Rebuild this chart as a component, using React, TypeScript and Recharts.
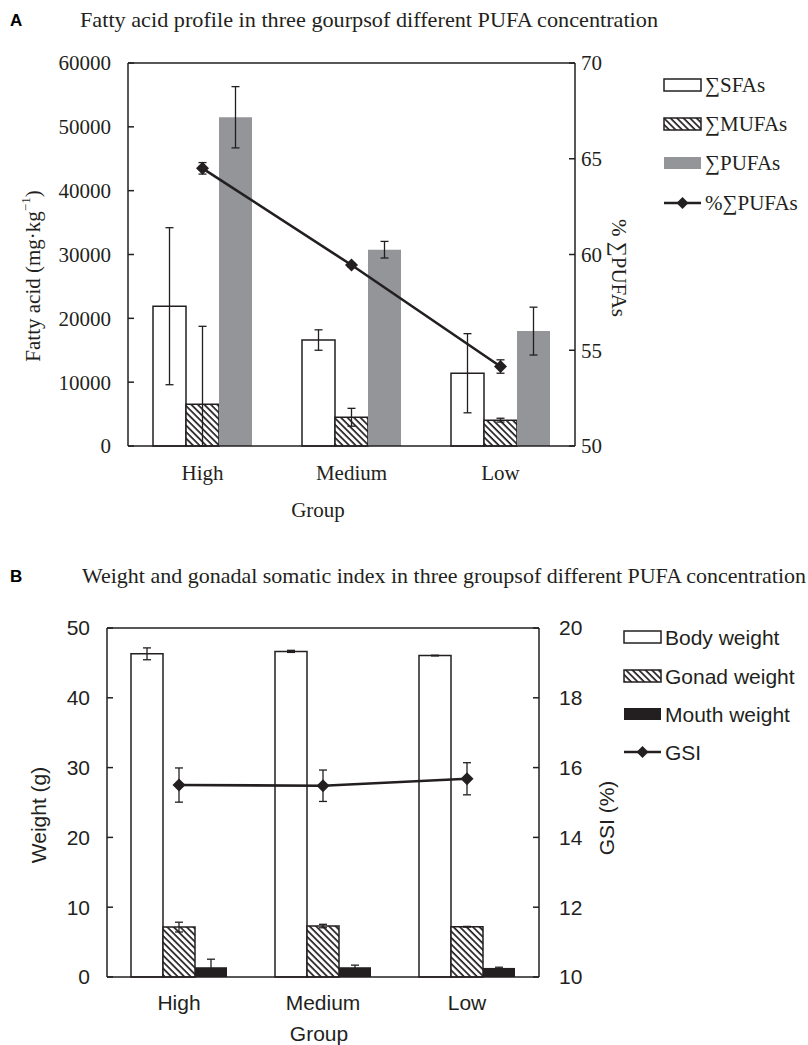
import React from 'react';
import { ComposedChart, Bar, Line, XAxis, YAxis, ErrorBar, ReferenceLine, Legend } from 'recharts';

// ---------- Panel A data ----------
const groups = ['High', 'Medium', 'Low'];
const sfa = [21900, 16600, 11400];
const sfaErr = [12300, 1600, 6200];
const mufa = [6550, 4500, 4050];
const mufaErrLow = [6550, 1400, 300];
const mufaErrHigh = [12200, 1400, 300];
const pufa = [51500, 30750, 18000];
const pufaErr = [4800, 1300, 3750];
const pctPufa = [64.5, 59.45, 54.15];
const pctPufaErr = [0.3, 0.1, 0.35];
const ticksA = [0, 10000, 20000, 30000, 40000, 50000, 60000];
const ticksARight = [50, 55, 60, 65, 70];

// ---------- Panel B data ----------
const body = [46.3, 46.65, 46.05];
const bodyErr = [0.85, 0.15, 0.05];
const gonad = [7.15, 7.3, 7.2];
const gonadErr = [0.7, 0.25, 0.05];
const mouth = [1.4, 1.4, 1.3];
const mouthErr = [1.15, 0.3, 0.1];
const gsi = [15.5, 15.48, 15.68];
const gsiErr = [0.49, 0.45, 0.46];
const ticksB = [0, 10, 20, 30, 40, 50];
const ticksBRight = [10, 12, 14, 16, 18, 20];

const dataA = groups.map((g, i) => ({
  group: g,
  sfa: sfa[i],
  sfaErr: sfaErr[i],
  mufa: mufa[i],
  mufaErr: [mufaErrLow[i], mufaErrHigh[i]],
  pufa: pufa[i],
  pufaErr: pufaErr[i],
  pct: pctPufa[i],
  pctErr: pctPufaErr[i],
}));

const dataB = groups.map((g, i) => ({
  group: g,
  body: body[i],
  bodyErr: bodyErr[i],
  gonad: gonad[i],
  gonadErr: gonadErr[i],
  mouth: mouth[i],
  mouthErr: mouthErr[i],
  gsi: gsi[i],
  gsiErr: gsiErr[i],
}));

const ink = '#231f20';
const gray = '#939598';
const serif = '"Liberation Serif", "Times New Roman", serif';
const sans = '"Liberation Sans", Arial, sans-serif';

const Hatch = ({ id }: { id: string }) => (
  <pattern id={id} patternUnits="userSpaceOnUse" width="4.6" height="4.6" patternTransform="rotate(-45)">
    <rect width="4.6" height="4.6" fill="#fff" />
    <line x1="1" y1="0" x2="1" y2="4.6" stroke={ink} strokeWidth="1.7" />
  </pattern>
);

const diamond = (cx: number, cy: number, r: number) =>
  `${cx},${cy - r} ${cx + r},${cy} ${cx},${cy + r} ${cx - r},${cy}`;

const renderDot = (p: any) => {
  const { cx, cy, index } = p;
  if (cx == null || cy == null) return <g key={index} />;
  return <polygon key={index} points={diamond(cx, cy, 6.5)} fill={ink} />;
};

const LegendA = () => {
  const rows = [25, 64, 103, 143];
  const tx = 55;
  const ts = { fontFamily: serif, fontSize: 21, fill: ink } as any;
  return (
    <svg width={158} height={170} style={{ overflow: 'visible' }}>
      <defs><Hatch id="hatchLegA" /></defs>
      <rect x={14} y={rows[0] - 6} width={37} height={12} fill="#fff" stroke={ink} strokeWidth={1.5} />
      <text x={tx} y={rows[0]} dominantBaseline="central" style={ts}>∑SFAs</text>
      <rect x={14} y={rows[1] - 6} width={37} height={12} fill="url(#hatchLegA)" stroke={ink} strokeWidth={1.5} />
      <text x={tx} y={rows[1]} dominantBaseline="central" style={ts}>∑MUFAs</text>
      <rect x={14} y={rows[2] - 6} width={37} height={12} fill={gray} />
      <text x={tx} y={rows[2]} dominantBaseline="central" style={ts}>∑PUFAs</text>
      <line x1={14} x2={51} y1={rows[3]} y2={rows[3]} stroke={ink} strokeWidth={2.5} />
      <polygon points={diamond(32.5, rows[3], 6)} fill={ink} />
      <text x={tx} y={rows[3]} dominantBaseline="central" style={ts}>%∑PUFAs</text>
    </svg>
  );
};

const LegendB = () => {
  const rows = [27, 66, 104, 142];
  const tx = 55;
  const ts = { fontFamily: sans, fontSize: 21, fill: ink } as any;
  return (
    <svg width={198} height={170} style={{ overflow: 'visible' }}>
      <defs><Hatch id="hatchLegB" /></defs>
      <rect x={14} y={rows[0] - 6} width={37} height={12} fill="#fff" stroke={ink} strokeWidth={1.5} />
      <text x={tx} y={rows[0]} dominantBaseline="central" style={ts}>Body weight</text>
      <rect x={14} y={rows[1] - 6} width={37} height={12} fill="url(#hatchLegB)" stroke={ink} strokeWidth={1.5} />
      <text x={tx} y={rows[1]} dominantBaseline="central" style={ts}>Gonad weight</text>
      <rect x={14} y={rows[2] - 6} width={37} height={12} fill={ink} />
      <text x={tx} y={rows[2]} dominantBaseline="central" style={ts}>Mouth weight</text>
      <line x1={14} x2={51} y1={rows[3]} y2={rows[3]} stroke={ink} strokeWidth={2.5} />
      <polygon points={diamond(32.5, rows[3], 6)} fill={ink} />
      <text x={tx} y={rows[3]} dominantBaseline="central" style={ts}>GSI</text>
    </svg>
  );
};

const axisLine = { stroke: ink, strokeWidth: 1.5 };
const tickLine = { stroke: ink, strokeWidth: 1.5 };

const ChartA = () => (
  <ComposedChart
    width={808}
    height={530}
    data={dataA}
    margin={{ top: 63, right: 173, bottom: 44, left: 58 }}
    barGap={0}
  >
    <XAxis
      dataKey="group"
      xAxisId="x"
      tickLine={false}
      axisLine={axisLine}
      tickSize={0}
      tickMargin={19}
      height={40}
      tick={{ fill: ink, fontSize: 21, fontFamily: serif }}
    />
    <YAxis
      yAxisId="l"
      type="number"
      domain={[0, 60000]}
      ticks={ticksA}
      interval={0}
      width={70}
      axisLine={axisLine}
      tickLine={tickLine}
      tickSize={-6}
      tickMargin={23}
      tick={{ fill: ink, fontSize: 21, fontFamily: serif }}
    />
    <YAxis
      yAxisId="r"
      orientation="right"
      type="number"
      domain={[50, 70]}
      ticks={ticksARight}
      interval={0}
      width={60}
      axisLine={axisLine}
      tickLine={tickLine}
      tickSize={-6}
      tickMargin={12}
      tick={{ fill: ink, fontSize: 21, fontFamily: serif }}
    />
    <ReferenceLine yAxisId="l" xAxisId="x" y={60000} stroke={ink} strokeWidth={1.5} />
    <Bar xAxisId="x" yAxisId="l" dataKey="sfa" barSize={33} fill="#fff" stroke={ink} strokeWidth={1.5} isAnimationActive={false}>
      <ErrorBar dataKey="sfaErr" width={4} stroke={ink} strokeWidth={1.3} direction="y" />
    </Bar>
    <Bar xAxisId="x" yAxisId="l" dataKey="mufa" barSize={33} fill="url(#hatchA)" stroke={ink} strokeWidth={1.5} isAnimationActive={false}>
      <ErrorBar dataKey="mufaErr" width={4} stroke={ink} strokeWidth={1.3} direction="y" />
    </Bar>
    <Bar xAxisId="x" yAxisId="l" dataKey="pufa" barSize={33} fill={gray} isAnimationActive={false}>
      <ErrorBar dataKey="pufaErr" width={4} stroke={ink} strokeWidth={1.3} direction="y" />
    </Bar>
    <Line
      xAxisId="x"
      yAxisId="r"
      dataKey="pct"
      stroke={ink}
      strokeWidth={2.6}
      dot={renderDot}
      activeDot={false}
      isAnimationActive={false}
    >
      <ErrorBar dataKey="pctErr" width={4} stroke={ink} strokeWidth={1.3} direction="y" />
    </Line>
    <Legend
      layout="horizontal"
      verticalAlign="middle"
      align="center"
      wrapperStyle={{ position: 'absolute', left: 650, top: 60, width: 158, height: 170 }}
      content={() => <LegendA />}
    />
  </ComposedChart>
);

const ChartB = () => (
  <ComposedChart
    width={808}
    height={505}
    data={dataB}
    margin={{ top: 88, right: 209, bottom: 28, left: 47 }}
    barGap={0}
  >
    <XAxis
      dataKey="group"
      xAxisId="x"
      tickLine={false}
      axisLine={axisLine}
      tickSize={0}
      tickMargin={18}
      height={40}
      tick={{ fill: ink, fontSize: 21, fontFamily: sans }}
    />
    <YAxis
      yAxisId="l"
      type="number"
      domain={[0, 50]}
      ticks={ticksB}
      interval={0}
      width={60}
      axisLine={axisLine}
      tickLine={tickLine}
      tickSize={-6}
      tickMargin={23}
      tick={{ fill: ink, fontSize: 21, fontFamily: sans }}
    />
    <YAxis
      yAxisId="r"
      orientation="right"
      type="number"
      domain={[10, 20]}
      ticks={ticksBRight}
      interval={0}
      width={60}
      axisLine={axisLine}
      tickLine={tickLine}
      tickSize={-6}
      tickMargin={26}
      tick={{ fill: ink, fontSize: 21, fontFamily: sans }}
    />
    <ReferenceLine yAxisId="l" xAxisId="x" y={50} stroke={ink} strokeWidth={1.5} />
    <Bar xAxisId="x" yAxisId="l" dataKey="body" barSize={32} fill="#fff" stroke={ink} strokeWidth={1.5} isAnimationActive={false}>
      <ErrorBar dataKey="bodyErr" width={4} stroke={ink} strokeWidth={1.3} direction="y" />
    </Bar>
    <Bar xAxisId="x" yAxisId="l" dataKey="gonad" barSize={32} fill="url(#hatchA)" stroke={ink} strokeWidth={1.5} isAnimationActive={false}>
      <ErrorBar dataKey="gonadErr" width={4} stroke={ink} strokeWidth={1.3} direction="y" />
    </Bar>
    <Bar xAxisId="x" yAxisId="l" dataKey="mouth" barSize={32} fill={ink} isAnimationActive={false}>
      <ErrorBar dataKey="mouthErr" width={4} stroke={ink} strokeWidth={1.3} direction="y" />
    </Bar>
    <Line
      xAxisId="x"
      yAxisId="r"
      dataKey="gsi"
      stroke={ink}
      strokeWidth={2.6}
      dot={renderDot}
      activeDot={false}
      isAnimationActive={false}
    >
      <ErrorBar dataKey="gsiErr" width={4} stroke={ink} strokeWidth={1.3} direction="y" />
    </Line>
    <Legend
      layout="horizontal"
      verticalAlign="middle"
      align="center"
      wrapperStyle={{ position: 'absolute', left: 610, top: 70, width: 198, height: 170 }}
      content={() => <LegendB />}
    />
  </ComposedChart>
);

const Overlay = () => (
  <svg width={808} height={1045} style={{ position: 'absolute', left: 0, top: 0, pointerEvents: 'none' }}>
    <text x={10} y={26} style={{ fontFamily: sans, fontWeight: 700, fontSize: 17, fill: '#000' }}>A</text>
    <text x={80} y={27} textLength={578} lengthAdjust="spacingAndGlyphs" style={{ fontFamily: serif, fontSize: 21, fill: ink }}>
      Fatty acid profile in three gourpsof different PUFA concentration
    </text>
    <text x={10} y={582} style={{ fontFamily: sans, fontWeight: 700, fontSize: 17, fill: '#000' }}>B</text>
    <text x={82} y={583} textLength={724} lengthAdjust="spacingAndGlyphs" style={{ fontFamily: serif, fontSize: 21, fill: ink }}>
      Weight and gonadal somatic index in three groupsof different PUFA concentration
    </text>
    <text transform="translate(33,276) rotate(-90)" textAnchor="middle" dominantBaseline="central" style={{ fontFamily: serif, fontSize: 21, fill: ink }}>
      Fatty acid (mg·kg<tspan dy={-8} style={{ fontSize: 13 }}>−1</tspan><tspan dy={8}>)</tspan>
    </text>
    <text transform="translate(619,268) rotate(90)" textAnchor="middle" dominantBaseline="central" style={{ fontFamily: serif, fontSize: 21, fill: ink }}>
      % ∑PUFAs
    </text>
    <text x={318} y={510} textAnchor="middle" dominantBaseline="central" style={{ fontFamily: serif, fontSize: 21, fill: ink }}>Group</text>
    <text transform="translate(38,815) rotate(-90)" textAnchor="middle" dominantBaseline="central" style={{ fontFamily: sans, fontSize: 21, fill: ink }}>
      Weight (g)
    </text>
    <text transform="translate(606,818) rotate(-90)" textAnchor="middle" dominantBaseline="central" style={{ fontFamily: sans, fontSize: 21, fill: ink }}>
      GSI (%)
    </text>
    <text x={319} y={1033} textAnchor="middle" dominantBaseline="central" style={{ fontFamily: sans, fontSize: 21, fill: ink }}>Group</text>
  </svg>
);

export default function App() {
  return (
    <div style={{ position: 'absolute', left: 0, top: 0, width: 808, height: 1045, background: '#fff', overflow: 'hidden' }}>
      <svg width={10} height={10} style={{ position: 'absolute', left: 0, top: 0 }}>
        <defs><Hatch id="hatchA" /></defs>
      </svg>
      <div style={{ position: 'absolute', left: 0, top: 0, width: 808, height: 530 }}>
        <ChartA />
      </div>
      <div style={{ position: 'absolute', left: 0, top: 540, width: 808, height: 505 }}>
        <ChartB />
      </div>
      <Overlay />
    </div>
  );
}
